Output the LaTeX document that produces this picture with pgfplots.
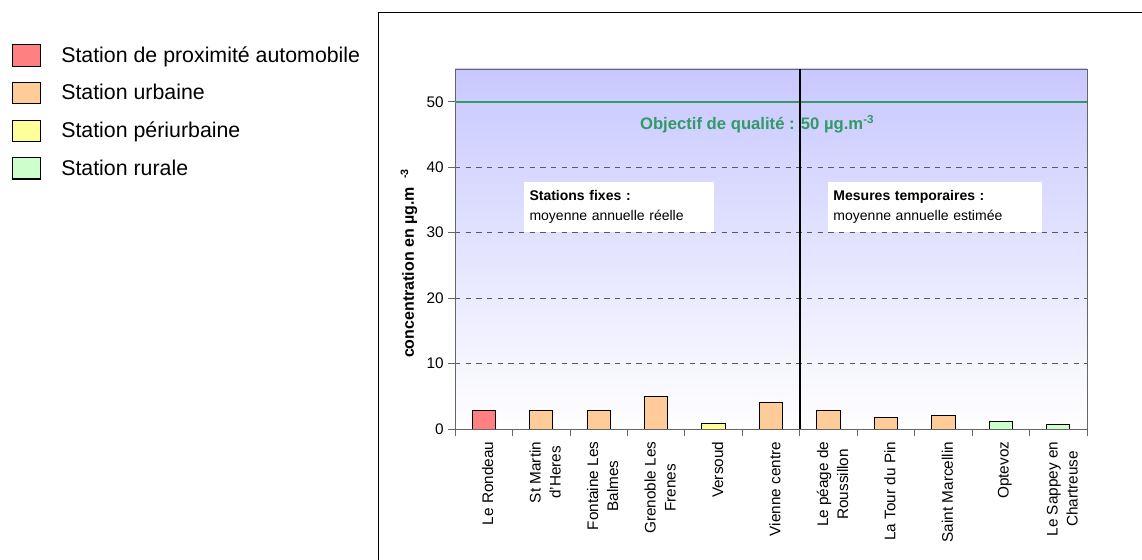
\documentclass[border=0pt]{standalone}
\usepackage{pgfplots}
\pgfplotsset{compat=1.18}
\usepackage{fontspec}
\setmainfont{Liberation Sans}
\definecolor{cred}{RGB}{255,128,128}
\definecolor{corange}{RGB}{255,204,153}
\definecolor{cyellow}{RGB}{255,255,153}
\definecolor{cgreen}{RGB}{204,255,204}
\definecolor{objgreen}{RGB}{51,153,102}
\definecolor{bgtop}{RGB}{200,200,255}
\begin{document}
\begin{tikzpicture}
\path[use as bounding box] (0,0) rectangle (856.5pt,420pt);
\draw[black, line width=0.6pt] (283.5pt,-5pt) -- (283.5pt,411pt) -- (870pt,411pt);
\begin{axis}[
  scale only axis, width=474pt, height=270pt,
  at={(341.25pt,98.25pt)}, anchor=south west,
  xmin=-0.5, xmax=10.5, ymin=0, ymax=55,
  ybar=0pt, bar width=17.5pt,
  every axis plot/.append style={bar shift=0pt, draw=black, line width=0.7pt},
  axis background/.style={top color=bgtop, bottom color=white},
  axis line style={draw=gray!80!black},
  tick align=outside, tick pos=left, major tick length=5pt,
  tick style={draw=gray!80!black, line width=0.6pt},
  xtick={-0.5,0.5,...,10.5}, x tick label as interval,
  xticklabels={{Le Rondeau},{St Martin\\d'Heres},{Fontaine Les\\Balmes},{Grenoble Les\\Frenes},{Versoud},{Vienne centre},{Le péage de\\Roussillon},{La Tour du Pin},{Saint Marcellin},{Optevoz},{Le Sappey en\\Chartreuse}},
  xticklabel style={rotate=90, anchor=east, align=center, yshift=-3pt, xshift=-1pt, font=\fontsize{11.5}{15}\selectfont},
  ytick={0,10,...,50},
  yticklabel style={font=\fontsize{11.5}{14}\selectfont},
  /pgf/number format/assume math mode=true,
  ymajorgrids, major grid style={gray!70!black, dash pattern=on 4pt off 4pt, line width=0.5pt},
  ylabel={\textbf{concentration en µg.m\hspace{6pt}\textsuperscript{-3}}},
  ylabel style={font=\fontsize{12}{14}\selectfont, at={(axis description cs:-0.0728,0.46)}, anchor=center},
  legend style={at={(axis description cs:-0.701,1.070)}, anchor=north west, draw=none, fill=none,
    font=\fontsize{16}{19}\selectfont, row sep=11pt, inner sep=0pt,
    /tikz/every odd column/.append style={column sep=13pt}},
  legend cell align=left,
  legend image code/.code={\draw[#1, draw=black, line width=0.8pt] (0pt,-8pt) rectangle (21pt,8pt);},
]
\addplot[fill=cred] coordinates {(0,2.8)};
\addlegendentry{Station de proximité automobile}
\addplot[fill=corange] coordinates {(1,2.8) (2,2.8) (3,5.0) (5,4.0) (6,2.8) (7,1.7) (8,2.1)};
\addlegendentry{Station urbaine}
\addplot[fill=cyellow] coordinates {(4,0.9)};
\addlegendentry{Station périurbaine}
\addplot[fill=cgreen] coordinates {(9,1.1) (10,0.75)};
\addlegendentry{Station rurale}
\draw[objgreen, line width=1.5pt] (axis cs:-0.5,50) -- (axis cs:10.5,50);
\node[objgreen, font=\bfseries\fontsize{12.5}{14}\selectfont] at (axis cs:4.76,46.6) {Objectif de qualité : 50 µg.m\textsuperscript{-3}};
\node[fill=white, anchor=north west, align=left, inner sep=4pt, text width=134.5pt, minimum height=37.5pt, font=\fontsize{10.5}{15.5}\selectfont] at (axis cs:0.70,37.8) {\textbf{Stations fixes :}\\moyenne annuelle réelle};
\node[fill=white, anchor=north west, align=left, inner sep=4pt, text width=152.5pt, minimum height=37.5pt, font=\fontsize{10.5}{15.5}\selectfont] at (axis cs:5.99,37.8) {\textbf{Mesures temporaires :}\\moyenne annuelle estimée};
\draw[black, line width=1.5pt] (axis cs:5.5,55) -- (axis cs:5.5,0);
\end{axis}
\end{tikzpicture}
\end{document}
